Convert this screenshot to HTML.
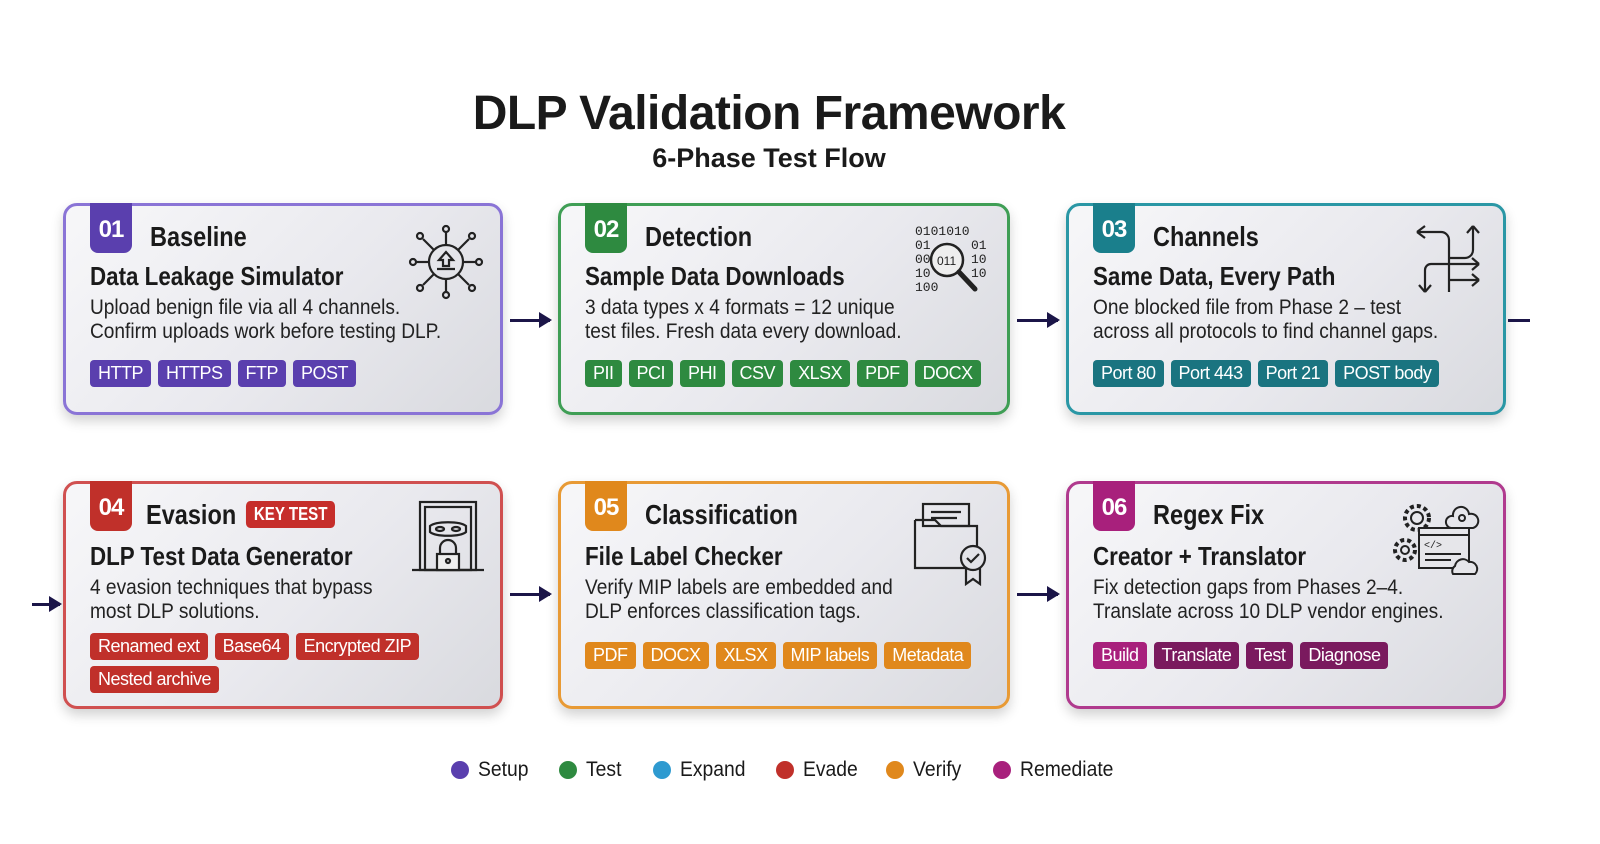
<!DOCTYPE html>
<html><head><meta charset="utf-8"><style>
*{margin:0;padding:0;box-sizing:border-box}
body{width:1600px;height:844px;background:#fff;position:relative;overflow:hidden;font-family:"Liberation Sans",sans-serif;color:#1a1a1a}
.h1{position:absolute;left:0;width:1538px;top:86px;text-align:center;font:bold 48px "Liberation Sans",sans-serif;letter-spacing:-0.5px}
.h2{position:absolute;left:0;width:1538px;top:143px;text-align:center;font:bold 27px "Liberation Sans",sans-serif}
.card{position:absolute;border:3px solid;border-radius:14px;background:linear-gradient(135deg,#f7f7f9 0%,#e9e9ee 55%,#d9dadf 100%);box-shadow:0 6px 12px rgba(0,0,0,.18)}
.badge{position:absolute;left:24px;top:-3px;width:42px;height:50px;border-radius:0 0 8px 8px;color:#fff;font:bold 24px "Liberation Sans",sans-serif;text-align:center;line-height:54px;letter-spacing:-1px}
.t{position:absolute;left:84px;top:15px;font:bold 28px "Liberation Sans",sans-serif;white-space:nowrap;transform:scaleX(.84);transform-origin:left}
.s{position:absolute;left:24px;top:55px;font:bold 26px "Liberation Sans",sans-serif;white-space:nowrap;transform:scaleX(.86);transform-origin:left}
.b{position:absolute;left:24px;top:90px;font-size:21px;line-height:24px;white-space:nowrap;color:#222;transform:scaleX(.91);transform-origin:left}
.tags{position:absolute;left:24px;display:flex;flex-wrap:wrap;gap:6px 7px;width:360px}
.tag{color:#fff;font-size:18px;letter-spacing:-.5px;height:27px;line-height:27px;padding:0 8px;border-radius:4px;white-space:nowrap}
.kt{display:inline-block;margin-left:12px;background:#c62e2b;color:#fff;font:bold 18px "Liberation Sans",sans-serif;padding:0 9px;height:27px;line-height:27px;border-radius:5px;vertical-align:4px}
.ic{position:absolute}
.arr{position:absolute;height:3px;background:#1b1548}
.arr:after{content:"";position:absolute;right:-2px;top:-7px;border-left:13px solid #1b1548;border-top:8px solid transparent;border-bottom:8px solid transparent}
.leg{position:absolute;top:758px;font-size:21px;display:flex;align-items:center}
.leg span.x{display:inline-block;transform:scaleX(.92);transform-origin:left}
.dot{width:18px;height:18px;border-radius:50%;margin-right:9px}
</style></head><body>
<div class="h1">DLP Validation Framework</div>
<div class="h2">6-Phase Test Flow</div>

<div class="card" style="left:63px;top:203px;width:440px;height:212px;border-color:#8a74d6">
<div class="badge" style="background:#5a3fae">01</div>
<div class="t">Baseline</div>
<div class="s">Data Leakage Simulator</div>
<div class="b">Upload benign file via all 4 channels.<br>Confirm uploads work before testing DLP.</div>
<div class="tags" style="top:154px"><span class="tag" style="background:#5a3fae">HTTP</span><span class="tag" style="background:#5a3fae">HTTPS</span><span class="tag" style="background:#5a3fae">FTP</span><span class="tag" style="background:#5a3fae">POST</span></div>
<svg class="ic" style="left:342px;top:18px" width="76" height="76" viewBox="0 0 76 76" fill="none" stroke="#222" stroke-width="2.2"><circle cx="38" cy="38" r="17"/><path d="M38 28l-7 8h4v6h6v-6h4z M29 45h18"/><g><line x1="38" y1="21" x2="38" y2="8"/><circle cx="38" cy="5" r="3"/><line x1="38" y1="55" x2="38" y2="68"/><circle cx="38" cy="71" r="3"/><line x1="21" y1="38" x2="8" y2="38"/><circle cx="5" cy="38" r="3"/><line x1="55" y1="38" x2="68" y2="38"/><circle cx="71" cy="38" r="3"/><line x1="26" y1="26" x2="15" y2="15"/><circle cx="12" cy="12" r="3"/><line x1="50" y1="26" x2="61" y2="15"/><circle cx="64" cy="12" r="3"/><line x1="26" y1="50" x2="15" y2="61"/><circle cx="12" cy="64" r="3"/><line x1="50" y1="50" x2="61" y2="61"/><circle cx="64" cy="64" r="3"/></g></svg>
</div>

<div class="card" style="left:558px;top:203px;width:452px;height:212px;border-color:#3f9e55">
<div class="badge" style="background:#2e8a40">02</div>
<div class="t">Detection</div>
<div class="s">Sample Data Downloads</div>
<div class="b">3 data types x 4 formats = 12 unique<br>test files. Fresh data every download.</div>
<div class="tags" style="top:154px;width:420px"><span class="tag" style="background:#2e8a40">PII</span><span class="tag" style="background:#2e8a40">PCI</span><span class="tag" style="background:#2e8a40">PHI</span><span class="tag" style="background:#2e8a40">CSV</span><span class="tag" style="background:#2e8a40">XLSX</span><span class="tag" style="background:#2e8a40">PDF</span><span class="tag" style="background:#2e8a40">DOCX</span></div>
<svg class="ic" style="left:352px;top:16px" width="78" height="78" viewBox="0 0 78 78" font-family="Liberation Mono" font-size="13" fill="#222"><text x="2" y="13">0101010</text><text x="2" y="27">01</text><text x="58" y="27">01</text><text x="2" y="41">00</text><text x="58" y="41">10</text><text x="2" y="55">10</text><text x="58" y="55">10</text><text x="2" y="69">100</text><circle cx="34" cy="38" r="16" fill="#eee" stroke="#222" stroke-width="2.5"/><text x="24" y="43" font-family="Liberation Sans" font-size="12">011</text><line x1="46" y1="50" x2="62" y2="67" stroke="#222" stroke-width="5" stroke-linecap="round"/></svg>
</div>

<div class="card" style="left:1066px;top:203px;width:440px;height:212px;border-color:#2a97a5">
<div class="badge" style="background:#1a7f8c">03</div>
<div class="t">Channels</div>
<div class="s">Same Data, Every Path</div>
<div class="b">One blocked file from Phase 2 – test<br>across all protocols to find channel gaps.</div>
<div class="tags" style="top:154px;width:410px"><span class="tag" style="background:#1a7480">Port 80</span><span class="tag" style="background:#1a7480">Port 443</span><span class="tag" style="background:#1a7480">Port 21</span><span class="tag" style="background:#1a7480">POST body</span></div>
<svg class="ic" style="left:344px;top:18px" width="72" height="72" viewBox="0 0 72 72" fill="none" stroke="#222" stroke-width="2.2"><path d="M4 8h24a8 8 0 0 1 8 8v52M4 8l8-6M4 8l8 6"/><path d="M60 2v24a8 8 0 0 1-8 8H36M60 2l-6 7M60 2l6 7"/><path d="M36 40h30M66 40l-7-6M66 40l-7 6"/><path d="M12 68V46a6 6 0 0 1 6-6h18M12 68l-6-7M12 68l6-7"/><path d="M36 56h30M66 56l-7-6M66 56l-7 6"/></svg>
</div>

<div class="card" style="left:63px;top:481px;width:440px;height:228px;border-color:#d05050">
<div class="badge" style="background:#c0302a">04</div>
<div class="t" style="left:80px">Evasion<span class="kt">KEY TEST</span></div>
<div class="s" style="top:57px">DLP Test Data Generator</div>
<div class="b" style="top:92px">4 evasion techniques that bypass<br>most DLP solutions.</div>
<div class="tags" style="top:149px;width:345px"><span class="tag" style="background:#c0302a">Renamed ext</span><span class="tag" style="background:#c0302a">Base64</span><span class="tag" style="background:#c0302a">Encrypted ZIP</span><span class="tag" style="background:#c0302a">Nested archive</span></div>
<svg class="ic" style="left:344px;top:16px" width="76" height="76" viewBox="0 0 76 76" fill="none" stroke="#222" stroke-width="2.2"><rect x="10" y="2" width="56" height="68"/><rect x="15" y="7" width="46" height="63"/><line x1="2" y1="70" x2="74" y2="70"/><path d="M20 26c6-5 30-5 36 0v6c-6 5-30 5-36 0z"/><ellipse cx="30" cy="29" rx="4" ry="2"/><ellipse cx="46" cy="29" rx="4" ry="2"/><path d="M30 54v-6a8 8 0 0 1 16 0v6"/><rect x="27" y="54" width="22" height="16" fill="#eee"/><circle cx="38" cy="61" r="2"/></svg>
</div>

<div class="card" style="left:558px;top:481px;width:452px;height:228px;border-color:#e89a35">
<div class="badge" style="background:#e0881c">05</div>
<div class="t">Classification</div>
<div class="s" style="top:57px">File Label Checker</div>
<div class="b" style="top:92px">Verify MIP labels are embedded and<br>DLP enforces classification tags.</div>
<div class="tags" style="top:158px;width:420px"><span class="tag" style="background:#e0881c">PDF</span><span class="tag" style="background:#e0881c">DOCX</span><span class="tag" style="background:#e0881c">XLSX</span><span class="tag" style="background:#e0881c">MIP labels</span><span class="tag" style="background:#e0881c">Metadata</span></div>
<svg class="ic" style="left:350px;top:16px" width="80" height="86" viewBox="0 0 80 86" fill="none" stroke="#222" stroke-width="2.2"><path d="M4 20v48h52M4 20h20l6 6h36v20"/><rect x="12" y="4" width="46" height="22"/><line x1="20" y1="12" x2="50" y2="12"/><line x1="20" y1="18" x2="46" y2="18"/><circle cx="62" cy="58" r="12"/><path d="M56 58l4 4 8-8"/><path d="M55 68v16l7-5 7 5V68"/></svg>
</div>

<div class="card" style="left:1066px;top:481px;width:440px;height:228px;border-color:#b03a8e">
<div class="badge" style="background:#a8207c">06</div>
<div class="t">Regex Fix</div>
<div class="s" style="top:57px">Creator + Translator</div>
<div class="b" style="top:92px">Fix detection gaps from Phases 2–4.<br>Translate across 10 DLP vendor engines.</div>
<div class="tags" style="top:158px"><span class="tag" style="background:#a8207c">Build</span><span class="tag" style="background:#7a1a5e">Translate</span><span class="tag" style="background:#7a1a5e">Test</span><span class="tag" style="background:#7a1a5e">Diagnose</span></div>
<svg class="ic" style="left:322px;top:14px" width="96" height="86" viewBox="0 0 96 86" fill="none" stroke="#222" stroke-width="2"><circle cx="26" cy="20" r="12" stroke-dasharray="4 3" stroke-width="4"/><circle cx="26" cy="20" r="6"/><circle cx="14" cy="52" r="10" stroke-dasharray="4 3" stroke-width="4"/><circle cx="14" cy="52" r="4"/><path d="M62 18a8 8 0 0 1 16-2 7 7 0 0 1 4 14H60a6 6 0 0 1 2-12z"/><circle cx="71" cy="20" r="3"/><rect x="28" y="30" width="50" height="40" fill="#e6e6ea"/><line x1="28" y1="37" x2="78" y2="37"/><text x="33" y="50" font-family="Liberation Mono" font-size="10" fill="#222" stroke="none">&lt;/&gt;</text><line x1="34" y1="56" x2="70" y2="56"/><line x1="34" y1="62" x2="60" y2="62"/><path d="M64 68a8 8 0 0 1 14-4 7 7 0 0 1 6 12H62a6 6 0 0 1 2-8z" fill="#e6e6ea"/></svg>
</div>

<div class="arr" style="left:510px;top:319px;width:40px"></div>
<div class="arr" style="left:1017px;top:319px;width:41px"></div>
<div style="position:absolute;left:1508px;top:319px;width:22px;height:3px;background:#1b1548"></div>
<div class="arr" style="left:32px;top:603px;width:28px"></div>
<div class="arr" style="left:510px;top:593px;width:40px"></div>
<div class="arr" style="left:1017px;top:593px;width:41px"></div>

<div class="leg" style="left:451px"><span class="dot" style="background:#5a3fae"></span><span class="x">Setup</span></div>
<div class="leg" style="left:559px"><span class="dot" style="background:#2e8a40"></span><span class="x">Test</span></div>
<div class="leg" style="left:653px"><span class="dot" style="background:#2e9ad0"></span><span class="x">Expand</span></div>
<div class="leg" style="left:776px"><span class="dot" style="background:#c0302a"></span><span class="x">Evade</span></div>
<div class="leg" style="left:886px"><span class="dot" style="background:#e0881c"></span><span class="x">Verify</span></div>
<div class="leg" style="left:993px"><span class="dot" style="background:#a8207c"></span><span class="x">Remediate</span></div>
</body></html>
